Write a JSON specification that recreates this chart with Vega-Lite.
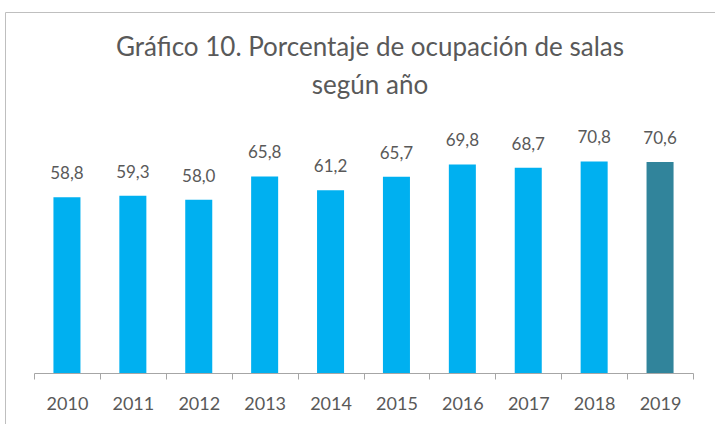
{
  "$schema": "https://vega.github.io/schema/vega-lite/v6.json",
  "autosize": {"type": "none"},
  "padding": {"left": 5, "top": 12, "right": 0, "bottom": 0},
  "width": 710,
  "height": 412,
  "title": {
    "text": ["Gráfico 10. Porcentaje de ocupación de salas", "según año"],
    "font": "Lato",
    "fontSize": 26,
    "fontWeight": "normal",
    "color": "#595959",
    "anchor": "middle",
    "frame": "group",
    "baseline": "top",
    "lineHeight": 38,
    "offset": -87,
    "dx": 10
  },
  "data": {
    "values": [
      {"year": "2010", "value": 58.8, "label": "58,8", "highlight": "no"},
      {"year": "2011", "value": 59.3, "label": "59,3", "highlight": "no"},
      {"year": "2012", "value": 58.0, "label": "58,0", "highlight": "no"},
      {"year": "2013", "value": 65.8, "label": "65,8", "highlight": "no"},
      {"year": "2014", "value": 61.2, "label": "61,2", "highlight": "no"},
      {"year": "2015", "value": 65.7, "label": "65,7", "highlight": "no"},
      {"year": "2016", "value": 69.8, "label": "69,8", "highlight": "no"},
      {"year": "2017", "value": 68.7, "label": "68,7", "highlight": "no"},
      {"year": "2018", "value": 70.8, "label": "70,8", "highlight": "no"},
      {"year": "2019", "value": 70.6, "label": "70,6", "highlight": "yes"}
    ]
  },
  "encoding": {
    "x": {
      "field": "year",
      "type": "nominal",
      "scale": {"range": [29, 688], "paddingInner": 0, "paddingOuter": 0},
      "axis": {
        "title": null,
        "orient": "bottom",
        "offset": -51,
        "tickBand": "extent",
        "domainColor": "#A6A6A6",
        "tickColor": "#A6A6A6",
        "tickSize": 6,
        "labelAngle": 0,
        "labelFont": "Lato",
        "labelFontSize": 18,
        "labelColor": "#595959",
        "labelPadding": 16
      }
    },
    "y": {
      "field": "value",
      "type": "quantitative",
      "scale": {"domain": [0, 80], "range": [361, 122], "nice": false, "zero": true},
      "axis": null
    }
  },
  "layer": [
    {
      "mark": {"type": "bar", "width": {"band": 0.41}},
      "encoding": {
        "color": {
          "field": "highlight",
          "type": "nominal",
          "scale": {"domain": ["no", "yes"], "range": ["#00B0F0", "#31849B"]},
          "legend": null
        }
      }
    },
    {
      "mark": {"type": "text", "baseline": "alphabetic", "dy": -18, "font": "Lato", "fontSize": 17, "color": "#595959"},
      "encoding": {"text": {"field": "label", "type": "nominal"}}
    }
  ],
  "config": {
    "view": {"stroke": "#BFBFBF", "strokeWidth": 1}
  }
}
